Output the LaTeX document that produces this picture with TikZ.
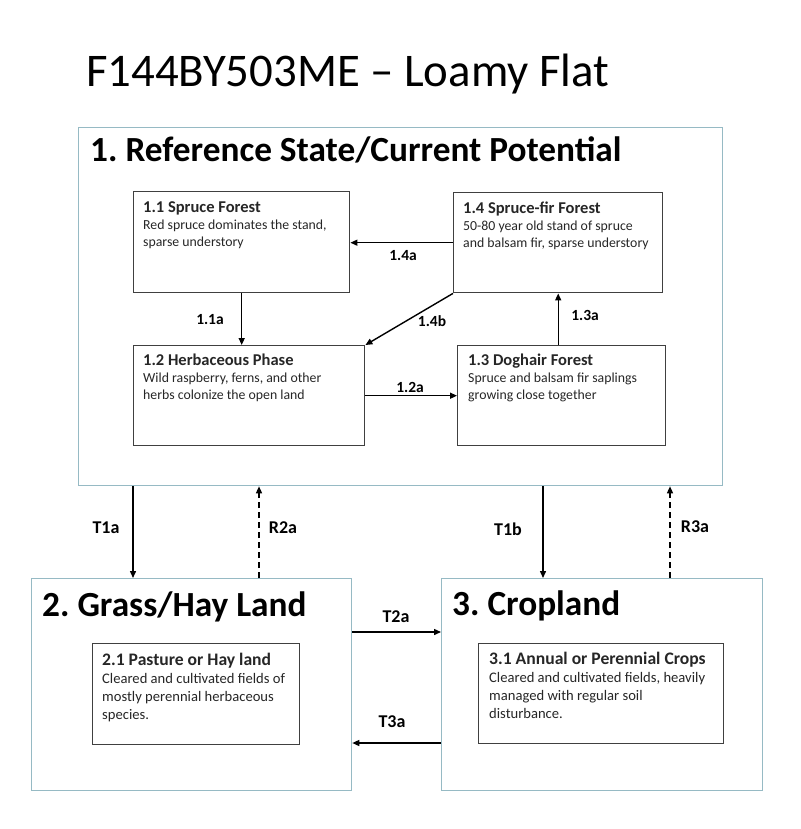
\documentclass[tikz,border=0pt]{standalone}
\usepackage{fontspec}
\setmainfont{Carlito}
\usetikzlibrary{arrows.meta}

\newcommand{\phasename}[2][16.5]{{\bfseries\fontsize{#1}{17}\selectfont #2}}

\begin{document}
\frenchspacing
\begin{tikzpicture}[x=1pt,y=1pt,yscale=-1,xscale=1,
  state/.style={draw={rgb,255:red,150;green,186;blue,196}, line width=1.3pt, anchor=north west, inner sep=0pt},
  phase/.style={draw={rgb,255:red,64;green,64;blue,64}, line width=1.4pt, anchor=north west, inner sep=0pt},
  phasetext/.style={anchor=base west, inner sep=0pt, align=flush left, text width=240pt, text=black!85, font=\fontsize{13.8}{17}\selectfont},
  phasetextbig/.style={phasetext, font=\fontsize{14.6}{18}\selectfont},
  statetitle/.style={anchor=base west, inner sep=0pt, font=\bfseries\fontsize{35.3}{40}\selectfont},
  trans/.style={line width=1.4pt, -{Triangle[length=7pt,width=6pt]}},
  restore/.style={trans, dash pattern=on 6pt off 4pt},
  plabel/.style={inner sep=0pt, font=\bfseries\fontsize{15.5}{18}\selectfont},
  tlabel/.style={inner sep=0pt, font=\bfseries\fontsize{18}{20}\selectfont}
]
\useasboundingbox (0,0) rectangle (800,829);
\node[anchor=base west, inner sep=0pt, font=\fontsize{46.8}{54}\selectfont] (title) at (86,87) {F144BY503ME – Loamy Flat};

% state 1 and its phases
\node[state, minimum width=644pt, minimum height=358pt] (s1) at (78,127) {};
\node[statetitle] (s1t) at (90,162) {1. Reference State/Current Potential};
\node[phase, minimum width=216pt, minimum height=101pt] (p11) at (133,191) {};
\node[phasetext] (p11t) at (143,212) {\phasename{1.1 Spruce Forest}\\Red spruce dominates the stand,\\sparse understory};
\node[phase, minimum width=209pt, minimum height=100pt] (p14) at (453,192) {};
\node[phasetext] (p14t) at (463,213) {\phasename{1.4 Spruce-fir Forest}\\50-80 year old stand of spruce\\and balsam fir, sparse understory};
\node[phase, minimum width=231pt, minimum height=100pt] (p12) at (133,345) {};
\node[phasetext] (p12t) at (143,365) {\phasename{1.2 Herbaceous Phase}\\Wild raspberry, ferns, and other\\herbs colonize the open land};
\node[phase, minimum width=208pt, minimum height=100pt] (p13) at (457,345) {};
\node[phasetext] (p13t) at (468,365) {\phasename{1.3 Doghair Forest}\\Spruce and balsam fir saplings\\growing close together};

\draw[trans] (p14.west) -- (p11.east |- p14.west);
\draw[trans] (p11.south) -- (p12.north -| p11.south);
\draw[trans] (p14.south west) -- (p12.north east);
\draw[trans] (p12.east) -- (p13.west);
\draw[trans] (p13.north -| p14.south) -- (p14.south);
\node[plabel] (l14a) at (403,256) {1.4a};
\node[plabel] (l11a) at (210,320) {1.1a};
\node[plabel] (l14b) at (432,321) {1.4b};
\node[plabel] (l12a) at (410,387) {1.2a};
\node[plabel] (l13a) at (585,315) {1.3a};

% states 2 and 3
\node[state, minimum width=320pt, minimum height=212pt] (s2) at (31,578) {};
\node[statetitle] (s2t) at (42,616) {2. Grass/Hay Land};
\node[phase, minimum width=207pt, minimum height=101pt] (p21) at (92,643) {};
\node[phasetextbig] (p21t) at (102,665) {\phasename[17.6]{2.1 Pasture or Hay land}\\Cleared and cultivated fields of\\mostly perennial herbaceous\\species.};
\node[state, minimum width=321pt, minimum height=212pt] (s3) at (441,578) {};
\node[statetitle] (s3t) at (452,615) {3. Cropland};
\node[phase, minimum width=245pt, minimum height=100pt] (p31) at (478,643) {};
\node[phasetextbig] (p31t) at (489,664) {\phasename[17.6]{3.1 Annual or Perennial Crops}\\Cleared and cultivated fields, heavily\\managed with regular soil\\disturbance.};

% transitions between states
\coordinate (t1a) at (133,530);
\coordinate (r2a) at (259,530);
\coordinate (t1b) at (543,530);
\coordinate (r3a) at (670,530);
\coordinate (t2a) at (396,632);
\coordinate (t3a) at (396,743);
\draw[trans] (s1.south -| t1a) -- (s2.north -| t1a);
\draw[restore] (s2.north -| r2a) -- (s1.south -| r2a);
\draw[trans] (s1.south -| t1b) -- (s3.north -| t1b);
\draw[restore] (s3.north -| r3a) -- (s1.south -| r3a);
\draw[trans] (s2.east |- t2a) -- (s3.west |- t2a);
\draw[trans] (s3.west |- t3a) -- (s2.east |- t3a);
\node[tlabel] (lt1a) at (106,528) {T1a};
\node[tlabel] (lr2a) at (283,528) {R2a};
\node[tlabel] (lt1b) at (508,529) {T1b};
\node[tlabel] (lr3a) at (695,527) {R3a};
\node[tlabel] (lt2a) at (396,617) {T2a};
\node[tlabel] (lt3a) at (392,722) {T3a};
\end{tikzpicture}
\end{document}
